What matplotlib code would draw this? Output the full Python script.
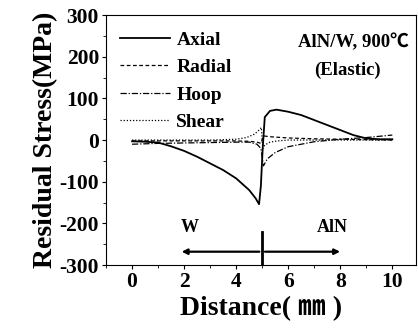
import numpy as np
import matplotlib.pyplot as plt
from matplotlib.ticker import MultipleLocator

plt.rcParams['font.family'] = ['Liberation Serif', 'Noto Sans CJK SC']
plt.rcParams['font.weight'] = 'bold'
plt.rcParams['axes.unicode_minus'] = False

# Axial stress
ax_x = [0, 0.5, 1.0, 1.5, 2.0, 2.5, 3.0, 3.5, 4.0, 4.5, 4.75, 4.88, 4.95, 5.02, 5.1, 5.3, 5.55, 6.0, 6.5, 7.0, 7.5, 8.0, 8.5, 9.0, 9.5, 10.0]
ax_y = [-3, -4, -6, -15, -26, -40, -56, -72, -92, -120, -140, -154, -110, -20, 55, 70, 73, 68, 60, 48, 36, 24, 12, 4, 2, 2]
# Radial stress
rad_x = [0, 1, 2, 3, 4, 4.5, 4.8, 4.95, 5.05, 5.3, 6, 7, 8, 9, 10]
rad_y = [-2, -2, -2, -2, -2, -3, -5, -8, 10, 8, 5, 3, 2, 1, 0]
# Hoop stress
hp_x = [0, 1, 2, 3, 4, 4.5, 4.8, 4.95, 5.05, 5.2, 5.5, 6.0, 7.0, 8.0, 9.0, 10.0]
hp_y = [-10, -8, -7, -6, -5, -5, -10, -20, -62, -45, -30, -16, -4, 2, 6, 12]
# Shear stress
sh_x = [0, 1, 2, 3, 4, 4.4, 4.7, 4.88, 4.97, 5.02, 5.1, 5.3, 5.6, 6, 7, 8, 9, 10]
sh_y = [0, 0, 0, 0, 2, 6, 14, 24, 30, -20, -12, -5, -2, 0, 0, 0, 0, 0]

fig = plt.figure(figsize=(4.18, 3.28), dpi=100)
ax = fig.add_axes([0.2536, 0.192, 0.741, 0.762])

ax.plot(ax_x, ax_y, color='black', lw=1.3, ls='-', label='Axial')
ax.plot(rad_x, rad_y, color='black', lw=0.9, ls=(0, (3, 2)), label='Radial')
ax.plot(hp_x, hp_y, color='black', lw=0.9, ls=(0, (5, 1.5, 1, 1.5)), label='Hoop')
ax.plot(sh_x, sh_y, color='black', lw=0.9, ls=(0, (1, 1.5)), label='Shear')

ax.set_xlim(-1, 10.9)
ax.set_ylim(-300, 300)
ax.set_xticks([0, 2, 4, 6, 8, 10])
ax.set_yticks([-300, -200, -100, 0, 100, 200, 300])
ax.xaxis.set_minor_locator(MultipleLocator(1))
ax.yaxis.set_minor_locator(MultipleLocator(50))
ax.tick_params(which='major', direction='out', length=3, width=0.8, labelsize=15.5, pad=2)
ax.tick_params(which='minor', direction='out', length=2, width=0.6)
for s in ax.spines.values():
    s.set_linewidth(0.8)

ax.set_xlabel('Distance( ㎜ )', fontsize=20, fontweight='bold', labelpad=3)
ax.set_ylabel('Residual Stress(MPa)', fontsize=20, fontweight='bold', labelpad=1)

leg = ax.legend(loc='upper left', bbox_to_anchor=(0.045, 0.935), frameon=False,
                borderaxespad=0, borderpad=0,
                handlelength=2.6, handletextpad=0.3, labelspacing=0.5,
                prop={'size': 14, 'weight': 'bold'})

ax.text(8.5, 235, 'AlN/W, 900℃', ha='center', va='center', fontsize=13.5, fontweight='bold')
ax.text(8.26, 168, '(Elastic)', ha='center', va='center', fontsize=13.5, fontweight='bold')

ax.text(2.2, -211, 'W', ha='center', va='center', fontsize=13, fontweight='bold')
ax.text(7.7, -211, 'AlN', ha='center', va='center', fontsize=13, fontweight='bold')
ax.annotate('', xy=(1.8, -268), xytext=(5, -268),
            arrowprops=dict(arrowstyle='-|>', color='black', lw=1.6, mutation_scale=8))
ax.annotate('', xy=(8.1, -268), xytext=(5, -268),
            arrowprops=dict(arrowstyle='-|>', color='black', lw=1.6, mutation_scale=8))
ax.plot([5, 5], [-220, -300], color='black', lw=2)

fig.savefig('out.png', dpi=100)
